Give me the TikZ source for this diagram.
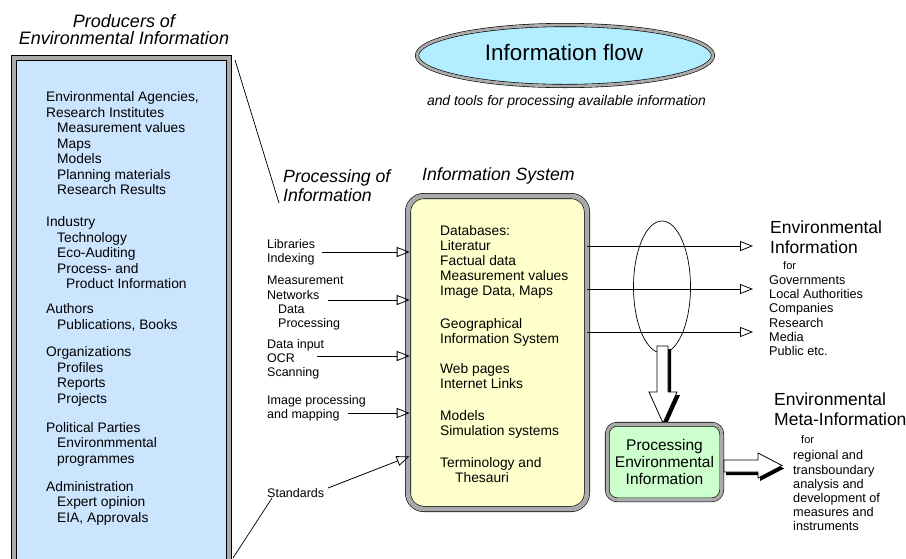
\documentclass[tikz,border=0pt]{standalone}
\usepackage{fontspec}
\setmainfont{Liberation Sans}
\usetikzlibrary{arrows.meta,shapes.geometric}
\definecolor{bordergray}{RGB}{170,170,170}
\definecolor{prodblue}{RGB}{204,229,255}
\definecolor{sysyellow}{RGB}{255,255,204}
\definecolor{procgreen}{RGB}{204,255,204}
\definecolor{flowcyan}{RGB}{178,238,255}
\newcommand\myfs[2]{\fontsize{#1}{#2}\selectfont}
\newcommand\myind{\hspace*{11pt}}
\begin{document}
\begin{tikzpicture}[x=1pt,y=-1pt,
  dblborder/.style={draw=black,line width=0.6pt,double=bordergray},
  prodbox/.style={dblborder,double distance=4.6pt,fill=prodblue,minimum width=215pt,minimum height=542pt,inner sep=0pt},
  sysbox/.style={dblborder,double distance=4.8pt,fill=sysyellow,rounded corners=16pt,minimum width=179pt,minimum height=313pt,inner sep=0pt},
  greenbox/.style={dblborder,double distance=3.4pt,fill=procgreen,rounded corners=10pt,minimum width=114.6pt,minimum height=75.6pt,inner sep=0pt,align=center,font=\myfs{15.5}{17}},
  flowell/.style={ellipse,dblborder,double distance=2.8pt,fill=flowcyan,minimum width=296pt,minimum height=61pt,inner sep=0pt},
  lt/.style={anchor=north west,align=left,inner sep=0pt,font=\myfs{13.8}{15.5}},
  yt/.style={anchor=north west,align=left,inner sep=0pt,font=\myfs{13.8}{15}},
  pl/.style={anchor=north west,align=left,inner sep=0pt,font=\myfs{12.5}{14.3}},
  rt/.style={anchor=north west,align=left,inner sep=0pt,font=\myfs{12.7}{14.2}},
  smallfor/.style={anchor=north west,inner sep=0pt,font=\myfs{11}{13}},
  bigt/.style={anchor=north west,align=left,inner sep=0pt,font=\myfs{17.5}{20}},
  titlet/.style={inner sep=0pt,font=\itshape\myfs{17.7}{19}},
  oarrow/.style={line width=0.8pt,-{Triangle[open,length=13pt,width=10pt]}},
  thinline/.style={line width=0.7pt},
  bigarrow/.style={draw=black,line width=0.8pt,fill=white}
]
\useasboundingbox (0,0) rectangle (906,558);
\clip (0,0) rectangle (906,558);

% ---------- Producers box ----------
\node[prodbox] (prod) at (121.5,329) {};
\node[titlet,anchor=north,align=center,font=\itshape\myfs{18}{17.5}] (prodtitle) at (124,14) {Producers of\\Environmental Information};

\node[lt] (g1) at (46,91.5) {Environmental Agencies,\\Research Institutes\\\myind Measurement values\\\myind Maps\\\myind Models\\\myind Planning materials\\\myind Research Results};
\node[lt] (g2) at (46,216.6) {Industry\\\myind Technology\\\myind Eco-Auditing\\\myind Process- and\\\hspace*{20pt}Product Information};
\node[lt] (g3) at (46,303.6) {Authors\\\myind Publications, Books};
\node[lt] (g4) at (46,346.4) {Organizations\\\myind Profiles\\\myind Reports\\\myind Projects};
\node[lt] (g5) at (46,422.1) {Political Parties\\\myind Environmmental\\\myind programmes};
\node[lt] (g6) at (46,481.1) {Administration\\\myind Expert opinion\\\myind EIA, Approvals};

% ---------- lines from producers box ----------
\coordinate (c1) at (235,60);
\coordinate (c2) at (279,203);
\coordinate (c3) at (233,558);
\coordinate (c4) at (272,498);
\draw[thinline] (c1) -- (c2);
\draw[thinline] (c3) -- (c4);

% ---------- top ellipse ----------
\node[flowell] (flow) at (565,55.5) {};
\node[inner sep=0pt,anchor=base,font=\myfs{22.4}{24}] (flowtxt) at (564,60.5) {Information flow};
\node[inner sep=0pt,anchor=base,font=\itshape\myfs{13.9}{16}] (sub) at (566.5,105) {and tools for processing available information};

% ---------- Processing of information ----------
\node[titlet,anchor=north west,align=left] (proctitle) at (283,169.3) {Processing of\\Information};
\node[titlet,anchor=north west] (istitle) at (422,167.3) {Information System};

\node[pl] (p1) at (267,239) {Libraries\\Indexing};
\node[pl] (p2) at (267,276) {Measurement\\Networks\\\myind Data\\\myind Processing};
\node[pl] (p3) at (267,339) {Data input\\OCR\\Scanning};
\node[pl] (p4) at (267,395) {Image processing\\and mapping};
\node[pl] (p5) at (267,488) {Standards};

% ---------- Information system box ----------
\node[sysbox] (ys) at (497.5,352.5) {};
\node[yt] (y1) at (440,225.6) {Databases:\\Literatur\\Factual data\\Measurement values\\Image Data, Maps};
\node[yt] (y2) at (440,318.1) {Geographical\\Information System};
\node[yt] (y3) at (440,363.6) {Web pages\\Internet Links};
\node[yt] (y4) at (440,410.1) {Models\\Simulation systems};
\node[yt] (y5) at (440,457.6) {Terminology and\\\hspace*{15pt}Thesauri};

% input arrows
\coordinate (a1) at (322,252);
\coordinate (a2) at (328,300);
\coordinate (a3) at (317,356);
\coordinate (a4) at (348,413);
\coordinate (a5) at (328,488);
\coordinate (a5t) at (0,457);
\draw[oarrow,shorten >=-2pt] (a1) -- (a1 -| ys.west);
\draw[oarrow,shorten >=-2pt] (a2) -- (a2 -| ys.west);
\draw[oarrow,shorten >=-2pt] (a3) -- (a3 -| ys.west);
\draw[oarrow,shorten >=-2pt] (a4) -- (a4 -| ys.west);
\draw[oarrow,shorten >=-2pt] (a5) -- (ys.west |- a5t);

% output arrows
\coordinate (r1) at (753,246);
\coordinate (r2) at (753,289);
\coordinate (r3) at (753,332);
\draw[oarrow] (ys.east |- r1) -- (r1);
\draw[oarrow] (ys.east |- r2) -- (r2);
\draw[oarrow] (ys.east |- r3) -- (r3);

\node[draw,ellipse,line width=0.7pt,minimum width=57pt,minimum height=132pt,inner sep=0pt] (sel) at (662,287) {};

% ---------- right texts ----------
\node[bigt] (envinfo) at (770,220.8) {Environmental\\Information};
\node[smallfor] (for1) at (783,261) {for};
\node[rt] (users) at (769,275.4) {Governments\\Local Authorities\\Companies\\Research\\Media\\Public etc.};

\node[bigt] (meta) at (774,392.3) {Environmental\\Meta-Information};
\node[smallfor] (for2) at (801,435) {for};
\node[rt] (metause) at (793,450.4) {regional and\\transboundary\\analysis and\\development of\\measures and\\instruments};

% ---------- big down arrow ----------
\fill[black] (660,349) -- (671,349) -- (671,395) -- (680,395) -- (666,426) -- (652,395) -- (660,395) -- cycle;
\draw[bigarrow] (657,346) -- (668,346) -- (668,392) -- (677,392) -- (663,423) -- (649,392) -- (657,392) -- cycle;

% ---------- processing env info box ----------
\node[greenbox] (pe) at (664.5,462) {Processing\\Environmental\\Information};

% ---------- big right arrow ----------
\fill[black] (726,463) -- (760,463) -- (760,456) -- (784,468.5) -- (760,481) -- (760,475) -- (726,475) -- cycle;
\draw[bigarrow] (724,460) -- (758,460) -- (758,453) -- (782,465.5) -- (758,478) -- (758,472) -- (724,472) -- cycle;
\end{tikzpicture}
\end{document}
